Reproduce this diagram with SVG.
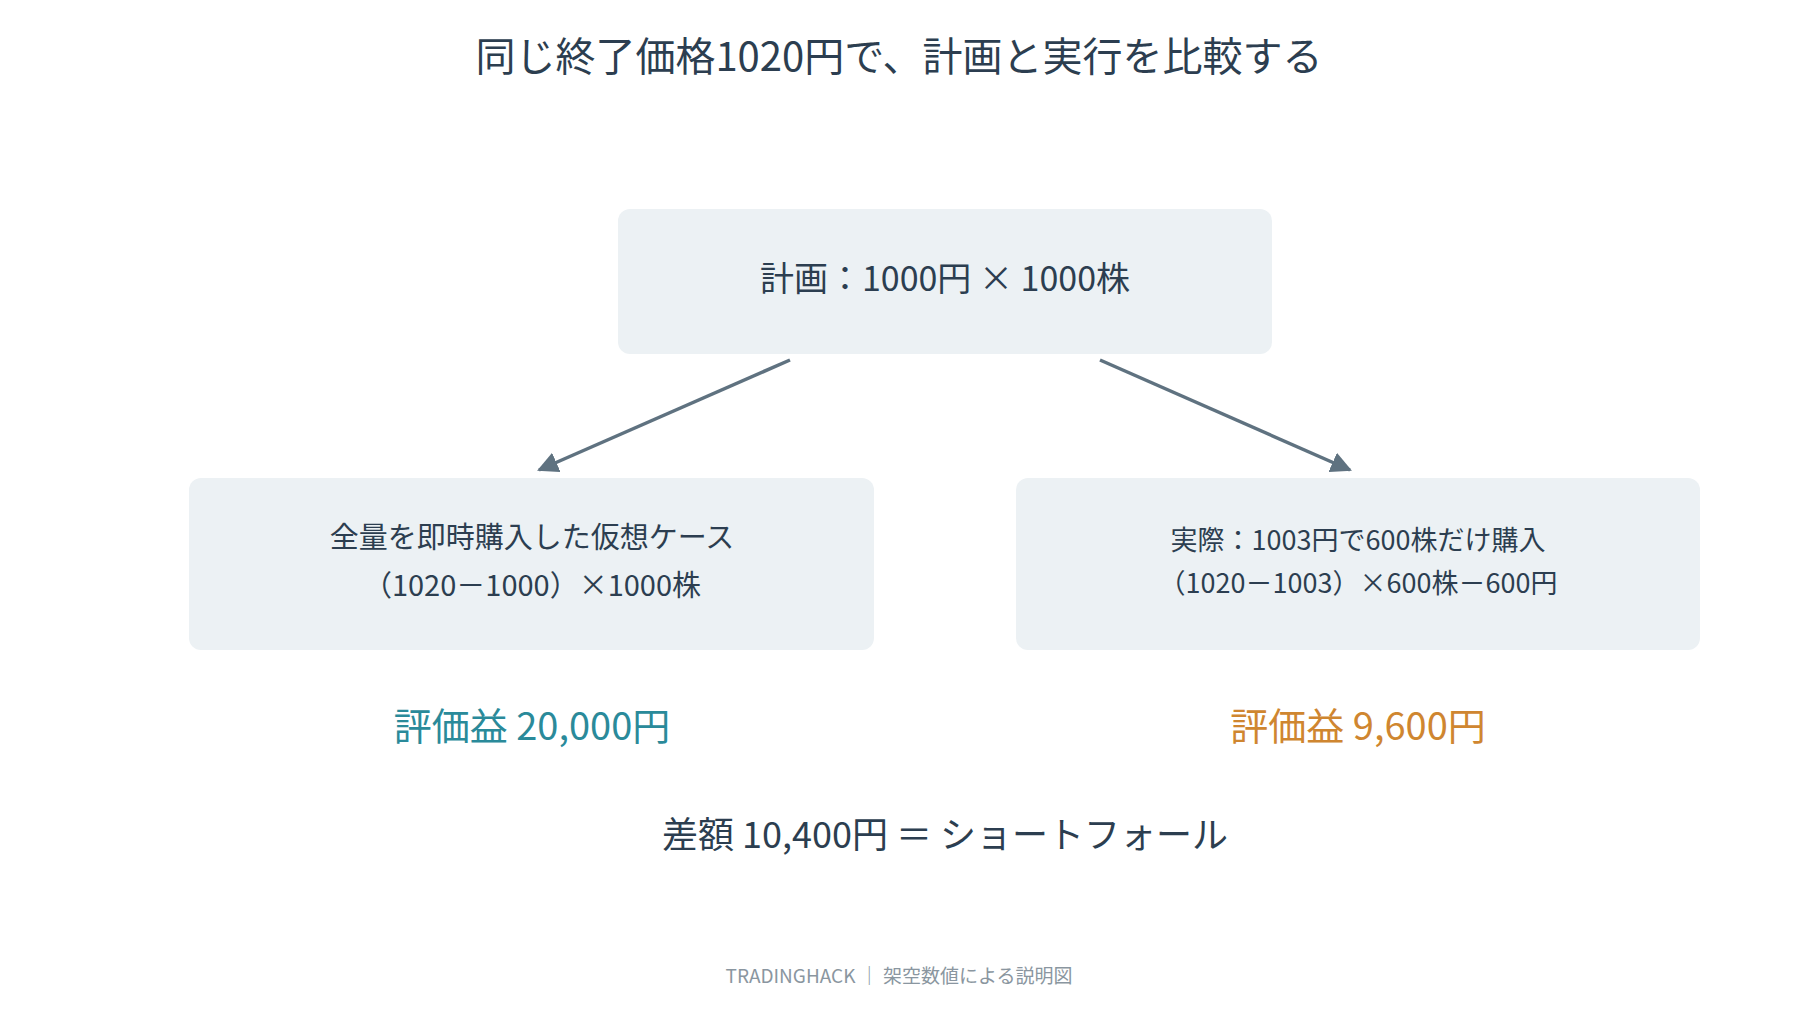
<svg xmlns="http://www.w3.org/2000/svg" width="1800" height="1020" viewBox="0 0 1800 1020">
<style>
text{font-family:"Noto Sans CJK JP","Noto Sans",sans-serif;text-anchor:middle;fill:#2c3e50}
.box{fill:#ecf1f4}
.ln{stroke:#5f7280;stroke-width:3.5;fill:none}
</style>
<defs><marker id="ah" viewBox="0 0 10 10" refX="9" refY="5" markerWidth="6" markerHeight="6" orient="auto" markerUnits="strokeWidth"><path d="M0,0L10,5L0,10z" fill="#5f7280"/></marker></defs>
<rect width="1800" height="1020" fill="#fff"/>
<text x="899" y="71" font-size="40">同じ終了価格1020円で、計画と実行を比較する</text>
<g id="plan"><rect class="box" x="618" y="209" width="654" height="145" rx="12"/><text x="945" y="291" font-size="34">計画：1000円 × 1000株</text></g>
<g id="ideal"><rect class="box" x="189" y="478" width="685" height="172" rx="12"/><text x="532" y="548" font-size="29">全量を即時購入した仮想ケース</text><text x="532" y="596" font-size="29">（1020－1000）×1000株</text></g>
<g id="actual"><rect class="box" x="1016" y="478" width="684" height="172" rx="12"/><text x="1358" y="550" font-size="27">実際：1003円で600株だけ購入</text><text x="1358" y="593" font-size="27">（1020－1003）×600株－600円</text></g>
<g id="connectors"><line class="ln" x1="790" y1="360" x2="539" y2="470" marker-end="url(#ah)"/><line class="ln" x1="1100" y1="360" x2="1350" y2="470" marker-end="url(#ah)"/></g>
<text x="532" y="740" font-size="38" style="fill:#2a8a9a">評価益 20,000円</text>
<text x="1358" y="740" font-size="38" style="fill:#cf8630">評価益 9,600円</text>
<text x="945" y="848" font-size="36">差額 10,400円 ＝ ショートフォール</text>
<text x="899" y="983" font-size="19" style="fill:#8a96a0">TRADINGHACK ｜ 架空数値による説明図</text>
</svg>
